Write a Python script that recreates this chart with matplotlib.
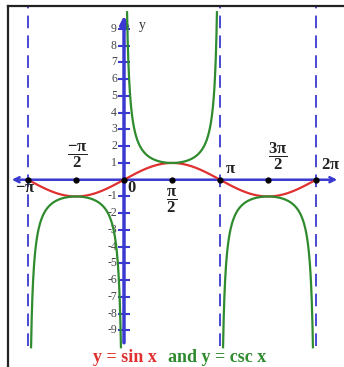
import numpy as np
import matplotlib
matplotlib.use("Agg")
import matplotlib.pyplot as plt

plt.rcParams['font.family'] = ['Liberation Serif', 'DejaVu Serif']
plt.rcParams['mathtext.fontset'] = 'custom'
plt.rcParams['mathtext.rm'] = 'Liberation Serif:bold'
plt.rcParams['mathtext.it'] = 'Liberation Serif:bold'
plt.rcParams['mathtext.bf'] = 'Liberation Serif:bold'

PI = np.pi
# data
x_min, x_max = -PI, 2 * PI
asymptotes = [-PI, PI, 2 * PI]
key_points = [-PI, -PI / 2, 0, PI / 2, PI, 3 * PI / 2, 2 * PI]
y_ticks = [-9, -8, -7, -6, -5, -4, -3, -2, -1, 1, 2, 3, 4, 5, 6, 7, 8, 9]
csc_clip = 10.0
branches = [(-PI, 0), (0, PI), (PI, 2 * PI)]

BLUE = '#3a3ad0'
RED = '#e03030'
GREEN = '#2e8b2e'

fig = plt.figure(figsize=(3.44, 3.67), dpi=100)
ax = fig.add_axes([8 / 344, 0, 1 - 8 / 344, 361 / 367])
ax.set_xlim(-116 / 96 * PI, 220 / 96 * PI)
ax.set_ylim(-11.18, 10.37)
for s in ['right', 'bottom']:
    ax.spines[s].set_visible(False)
for s in ['left', 'top']:
    ax.spines[s].set_linewidth(1.6)
    ax.spines[s].set_color('#222222')
ax.set_xticks([])
ax.set_yticks([])

# asymptotes
ax.vlines(asymptotes, -9.9, 10.3, colors=BLUE, linestyles=(0, (7, 4)), lw=1.3)

# axes
ax.annotate('', xy=(-115 / 96 * PI, 0), xytext=(0, 0),
            arrowprops=dict(arrowstyle='->', color=BLUE, lw=1.8, mutation_scale=9))
ax.annotate('', xy=(216 / 96 * PI, 0), xytext=(0, 0),
            arrowprops=dict(arrowstyle='->', color=BLUE, lw=1.8, mutation_scale=9))
ax.annotate('', xy=(0, 9.95), xytext=(0, -9.9),
            arrowprops=dict(arrowstyle='-|>', color=BLUE, lw=2.5, mutation_scale=12))

# y ticks
tk = 6 / 96 * PI
ax.hlines(y_ticks, -tk, tk, colors=BLUE, lw=1.5)
for v in y_ticks:
    ax.text(-7 / 96 * PI, v, str(v), ha='right', va='center', fontsize=8.5,
            color='#444444')
ax.text(0.15 * PI, 9.2, 'y', ha='left', va='center', fontsize=10, color='#333333')

# curves
xs = np.linspace(x_min, x_max, 600)
ax.plot(xs, np.sin(xs), color=RED, lw=1.6, zorder=3)
for a, b in branches:
    eps = np.arcsin(1 / csc_clip)
    xb = np.linspace(a + eps, b - eps, 400)
    ax.plot(xb, 1 / np.sin(xb), color=GREEN, lw=1.6, zorder=3)

ax.plot(key_points, [0] * len(key_points), 'o', color='black', ms=3.5, zorder=4)

# x labels
lab = dict(fontsize=12, color='#222222', ha='center', va='center')
ax.text(-1.03 * PI, -0.5, r'$-\pi$', **lab)
ax.text(-0.49 * PI, 1.4, r'$\dfrac{-\pi}{2}$', **lab)
ax.text(0.085 * PI, -0.5, r'$0$', **lab)
ax.text(0.5 * PI, -1.25, r'$\dfrac{\pi}{2}$', **lab)
ax.text(1.11 * PI, 0.63, r'$\pi$', **lab)
ax.text(1.6 * PI, 1.4, r'$\dfrac{3\pi}{2}$', **lab)
ax.text(2.15 * PI, 0.88, r'$2\pi$', **lab)

# caption
fig.text(93 / 344, 1 - 357 / 367, 'y = sin x', color=RED, fontsize=13,
         fontweight='bold', ha='left', va='center')
fig.text(168 / 344, 1 - 357 / 367, 'and y = csc x', color=GREEN, fontsize=13,
         fontweight='bold', ha='left', va='center')

plt.savefig('out.png', dpi=100)
